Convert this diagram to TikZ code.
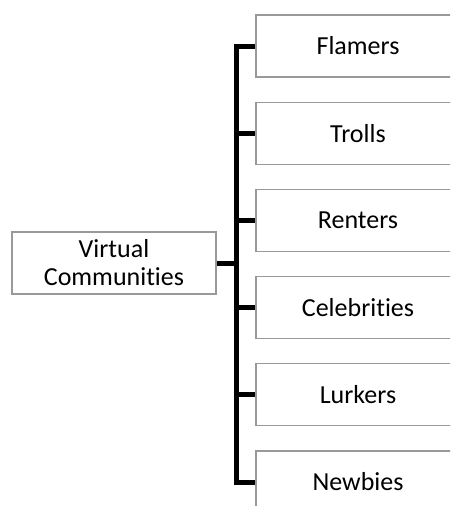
\documentclass[tikz,border=0pt]{standalone}
\usepackage{fontspec}
\setmainfont[Ligatures=NoCommon]{Carlito}
\begin{document}
\begin{tikzpicture}[x=1pt,y=-1pt,
  box/.style={draw=black!40, line width=1.2pt, fill=white, minimum width=204pt,
    minimum height=62pt, inner sep=0pt, align=center,
    font=\fontsize{26}{28}\selectfont},
  conn/.style={draw=black, line width=5pt, line join=miter}]
\useasboundingbox (0,0) rectangle (450,506);
\clip (0,0) rectangle (450,506);
% root
\node[box] (root) at (114,263) {Virtual\\Communities};
% junction on the trunk
\coordinate (j) at (236,263);
% leaves
\foreach \name/\lbl [count=\k from 0] in {f/Flamers,t/Trolls,r/Renters,c/Celebrities,l/Lurkers,n/Newbies}{
  \node[box] (\name) at (358,{46+87.2*\k}) {\lbl};
}
% connectors
\draw[conn] (root.east) -- (j);
\foreach \name in {f,t,r,c,l,n}{
  \draw[conn] (j) |- (\name.west);
}
\end{tikzpicture}
\end{document}
